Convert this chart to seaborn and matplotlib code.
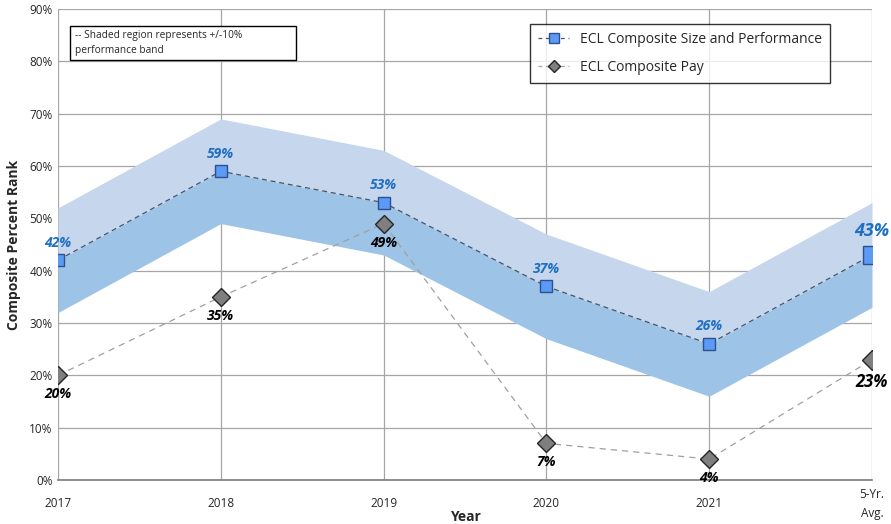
import matplotlib
matplotlib.use("Agg")
import matplotlib.pyplot as plt
import seaborn as sns
import pandas as pd
import numpy as np
from matplotlib.lines import Line2D
from matplotlib.patches import Rectangle

categories = ["2017", "2018", "2019", "2020", "2021", "5-Yr.\nAvg."]
size_perf = [42, 59, 53, 37, 26, 43]
pay = [20, 35, 49, 7, 4, 23]
band = 10

sns.set_theme(style="white")
plt.rcParams['font.family'] = ['Open Sans', 'DejaVu Sans']

x = np.arange(len(categories))
df = pd.DataFrame({"x": np.concatenate([x, x]),
                   "value": size_perf + pay,
                   "series": ["ECL Composite Size and Performance"] * 6 + ["ECL Composite Pay"] * 6})

fig = plt.figure(figsize=(8.91, 5.24), dpi=100)
ax = fig.add_axes([58/891, 44/524, (872-58)/891, (480-9)/524])

sp = np.array(size_perf)
ax.fill_between(x, sp, sp + band, color="#c6d6ed", lw=0, zorder=1)
ax.fill_between(x, sp - band, sp, color="#9dc3e6", lw=0, zorder=1)

sns.lineplot(data=df[df.series == "ECL Composite Pay"], x="x", y="value", ax=ax,
             color="#a0a0a0", lw=0.9, linestyle=(0, (5, 4)), zorder=2, legend=False)
sns.lineplot(data=df[df.series == "ECL Composite Size and Performance"], x="x", y="value", ax=ax,
             color="#44546a", lw=0.9, linestyle=(0, (4, 3)), zorder=2, legend=False)

for i in range(len(x)):
    big = i == len(x) - 1
    ax.plot(x[i], size_perf[i], marker="s", ms=13 if big else 9, mfc="#5b9bf5",
            mec="#2f4f8f", mew=1.0, zorder=4, ls="none")
    ax.plot(x[i], pay[i], marker="D", ms=10 if big else 9, mfc="#7f7f7f",
            mec="#262626", mew=1.0, zorder=4, ls="none")
    ax.text(x[i], size_perf[i] + (2.8 if big else 2.0), f"{size_perf[i]}%", ha="center", va="bottom",
            color="#1f6fc0", fontsize=13 if big else 10, fontweight="bold", style="italic", zorder=5)
    ax.text(x[i], pay[i] - (2.6 if big else 2.3), f"{pay[i]}%", ha="center", va="top",
            color="black", fontsize=12 if big else 10, fontweight="bold", style="italic", zorder=5)

ax.set_xlim(0, len(x) - 1)
ax.set_ylim(0, 90)
ax.set_yticks(np.arange(0, 91, 10))
ax.set_yticklabels([f"{v}%" for v in range(0, 91, 10)], fontsize=8.5)
ax.set_xticks(x)
ax.set_xticklabels(categories, fontsize=8.5, va="center", linespacing=1.6)
ax.tick_params(axis="x", pad=17, length=0)
ax.tick_params(axis="y", length=0, pad=4)
ax.grid(True, color="#a6a6a6", lw=0.9)
for s in ax.spines.values():
    s.set_visible(False)
ax.spines["bottom"].set_visible(True)
ax.spines["bottom"].set_color("#808080")
ax.set_xlabel("Year", fontsize=10, fontweight="bold")
ax.xaxis.set_label_coords(0.5, -(517-480)/471)
ax.xaxis.label.set_va("center")
ax.set_ylabel("Composite Percent Rank", fontsize=10, fontweight="bold", labelpad=6)

handles = [
    Line2D([0], [0], color="#44546a", lw=0.9, linestyle=(0, (3, 3)), marker="s", ms=7,
           mfc="#5b9bf5", mec="#2f4f8f"),
    Line2D([0], [0], color="#a0a0a0", lw=0.9, linestyle=(0, (3, 3)), marker="D", ms=6,
           mfc="#7f7f7f", mec="#262626"),
]
leg = ax.legend(handles, ["ECL Composite Size and Performance", "ECL Composite Pay"],
                loc="upper left", bbox_to_anchor=((530-58)/814, (480-24)/471),
                fontsize=10, frameon=True, fancybox=False, handlelength=2.2,
                borderpad=0.6, labelspacing=0.9, borderaxespad=0)
leg.get_frame().set_edgecolor("black")
leg.get_frame().set_linewidth(1.0)

# annotation box
ax.add_patch(Rectangle(((70-58)/814, (480-60)/471), (296-70)/814, (60-26)/471,
                       transform=ax.transAxes, fc="white", ec="black", lw=1.0, zorder=6))
ax.text((75-58)/814, (480-43)/471, "-- Shaded region represents +/-10%\nperformance band",
        transform=ax.transAxes, fontsize=7.3, va="center", ha="left", linespacing=1.5, zorder=7)

fig.savefig("out.png", dpi=100)
